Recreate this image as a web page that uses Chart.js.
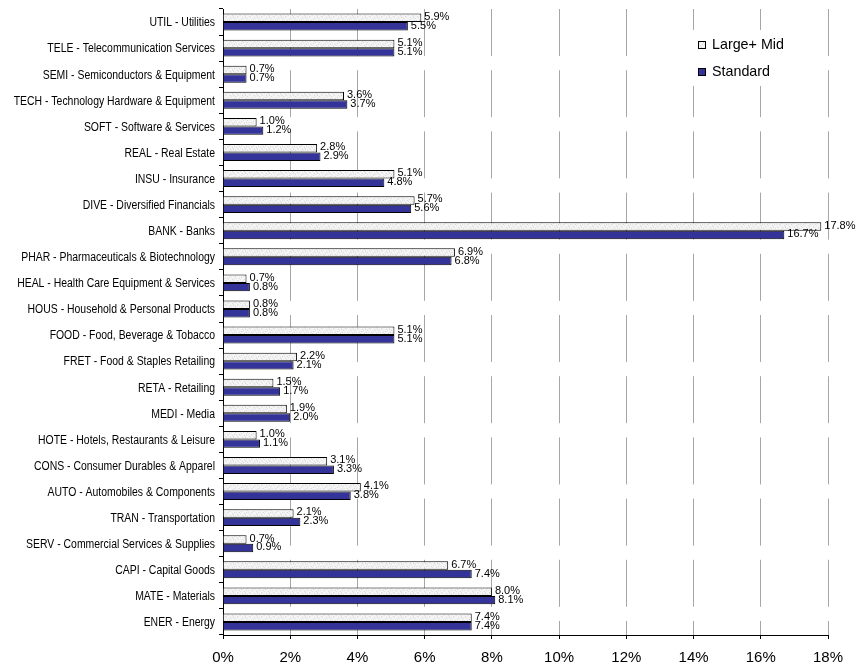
<!DOCTYPE html>
<html>
<head>
<meta charset="utf-8">
<script src="https://cdn.jsdelivr.net/npm/chart.js@4/dist/chart.umd.min.js"></script>
<style>
  html, body { margin: 0; padding: 0; background: #fff; }
  #wrap { width: 865px; height: 665px; }
</style>
</head>
<body>
<div id="wrap"><canvas id="chart" width="865" height="665"></canvas></div>
<script>
// Sector weights, top to bottom
const categories = [
  'UTIL - Utilities',
  'TELE - Telecommunication Services',
  'SEMI - Semiconductors & Equipment',
  'TECH - Technology Hardware & Equipment',
  'SOFT - Software & Services',
  'REAL - Real Estate',
  'INSU - Insurance',
  'DIVE - Diversified Financials',
  'BANK - Banks',
  'PHAR - Pharmaceuticals & Biotechnology',
  'HEAL - Health Care Equipment & Services',
  'HOUS - Household & Personal Products',
  'FOOD - Food, Beverage & Tobacco',
  'FRET - Food & Staples Retailing',
  'RETA - Retailing',
  'MEDI - Media',
  'HOTE - Hotels, Restaurants & Leisure',
  'CONS - Consumer Durables & Apparel',
  'AUTO - Automobiles & Components',
  'TRAN - Transportation',
  'SERV - Commercial Services & Supplies',
  'CAPI - Capital Goods',
  'MATE - Materials',
  'ENER - Energy'
];

const largeMid = [5.9, 5.1, 0.7, 3.6, 1.0, 2.8, 5.1, 5.7, 17.8, 6.9, 0.7, 0.8,
                  5.1, 2.2, 1.5, 1.9, 1.0, 3.1, 4.1, 2.1, 0.7, 6.7, 8.0, 7.4];
const standard = [5.5, 5.1, 0.7, 3.7, 1.2, 2.9, 4.8, 5.6, 16.7, 6.8, 0.8, 0.8,
                  5.1, 2.1, 1.7, 2.0, 1.1, 3.3, 3.8, 2.3, 0.9, 7.4, 8.1, 7.4];

const xTicks = [0, 2, 4, 6, 8, 10, 12, 14, 16, 18];
const seriesNames = ['Large+ Mid', 'Standard'];

const FONT = '"Liberation Sans", Arial, sans-serif';

// Light mottled grey fill for the first series
function makeTexture() {
  const c = document.createElement('canvas');
  c.width = 12; c.height = 6;
  const g = c.getContext('2d');
  g.fillStyle = '#f4f4f4';
  g.fillRect(0, 0, 12, 6);
  const specks = [[1,1],[4,3],[7,0],[9,4],[2,5],[11,2],[6,2],[5,5]];
  g.fillStyle = '#d8d8d8';
  specks.forEach(([x, y]) => g.fillRect(x, y, 1, 1));
  g.fillStyle = '#e4e4e4';
  [[0,3],[3,0],[8,2],[10,5],[5,4]].forEach(([x, y]) => g.fillRect(x, y, 1, 1));
  return g.createPattern(c, 'repeat');
}

const ctx = document.getElementById('chart').getContext('2d');
const lmFill = makeTexture();

// Category names, set in a slightly condensed face
const categoryLabels = {
  id: 'categoryLabels',
  afterDraw(chart) {
    const ys = chart.scales.y;
    const c = chart.ctx;
    c.save();
    c.font = '12px ' + FONT;
    c.fillStyle = '#000';
    c.textAlign = 'right';
    c.textBaseline = 'middle';
    chart.data.labels.forEach((lab, i) => {
      const y = ys.getPixelForValue(i);
      c.save();
      c.translate(215, y + 1);
      c.scale(0.87, 1);
      c.fillText(lab, 0, 0);
      c.restore();
    });
    c.restore();
  }
};

// Value labels at the end of each bar
const valueLabels = {
  id: 'valueLabels',
  afterDatasetsDraw(chart) {
    const c = chart.ctx;
    c.save();
    c.font = '11px ' + FONT;
    c.fillStyle = '#000';
    c.textAlign = 'left';
    c.textBaseline = 'middle';
    chart.data.datasets.forEach((ds, di) => {
      const meta = chart.getDatasetMeta(di);
      const dy = di === 0 ? -1 : -0.5;
      meta.data.forEach((bar, i) => {
        const v = ds.data[i];
        c.fillText(v.toFixed(1) + '%', bar.x + 3, bar.y + dy);
      });
    });
    c.restore();
  }
};

// Legend box in the upper right of the plot
const sideLegend = {
  id: 'sideLegend',
  afterDraw(chart) {
    const c = chart.ctx;
    c.save();
    c.fillStyle = '#fff';
    c.fillRect(689, 30, 98, 56);
    const rows = [45, 72];
    chart.data.datasets.forEach((ds, i) => {
      const y = rows[i];
      c.fillStyle = ds.backgroundColor;
      c.fillRect(698, y - 4, 8, 8);
      c.strokeStyle = '#000';
      c.lineWidth = 1;
      c.strokeRect(698.5, y - 3.5, 7, 7);
      c.fillStyle = '#000';
      c.font = '14.3px ' + FONT;
      c.textAlign = 'left';
      c.textBaseline = 'middle';
      c.fillText(ds.label, 712, y);
    });
    c.restore();
  }
};

new Chart(ctx, {
  type: 'bar',
  data: {
    labels: categories,
    datasets: [
      {
        label: seriesNames[0],
        data: largeMid,
        backgroundColor: lmFill,
        borderColor: '#000',
        borderWidth: 1,
        categoryPercentage: 0.65,
        barPercentage: 1.0
      },
      {
        label: seriesNames[1],
        data: standard,
        backgroundColor: '#333399',
        borderColor: '#000',
        borderWidth: 1,
        categoryPercentage: 0.65,
        barPercentage: 1.0
      }
    ]
  },
  options: {
    indexAxis: 'y',
    responsive: false,
    animation: false,
    layout: { padding: { top: 9, right: 37, left: 0, bottom: 0 } },
    plugins: {
      legend: { display: false },
      tooltip: { enabled: false }
    },
    scales: {
      x: {
        type: 'linear',
        min: xTicks[0],
        max: xTicks[xTicks.length - 1],
        afterBuildTicks(scale) {
          scale.ticks = xTicks.map(v => ({ value: v }));
        },
        afterFit(scale) { scale.height = 30; },
        ticks: {
          color: '#000',
          font: { family: FONT, size: 15 },
          padding: 10,
          maxRotation: 0,
          callback: v => v + '%'
        },
        grid: {
          color: '#a6a6a6',
          lineWidth: 1,
          tickColor: '#000',
          tickLength: 4
        },
        border: { display: true, color: '#000', width: 1, dash: [47, 14.2] }
      },
      y: {
        afterFit(scale) { scale.width = 223; },
        ticks: {
          display: false,
          autoSkip: false
        },
        grid: {
          drawOnChartArea: false,
          drawTicks: true,
          tickLength: 4,
          tickColor: '#000',
          offset: true
        },
        border: { display: true, color: '#000', width: 1 }
      }
    }
  },
  plugins: [categoryLabels, valueLabels, sideLegend]
});
</script>
</body>
</html>
